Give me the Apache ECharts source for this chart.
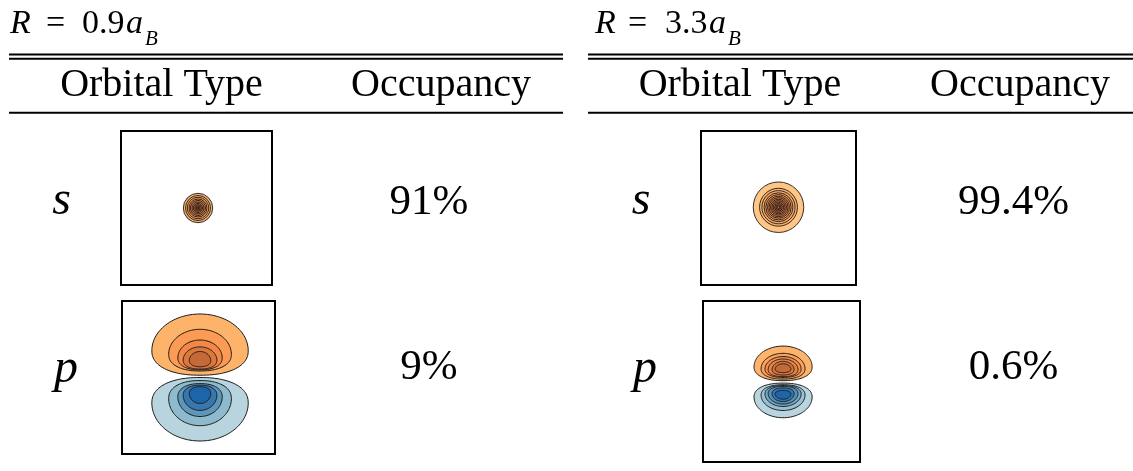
<!DOCTYPE html>
<html>
<head>
<meta charset="utf-8">
<script src="https://cdn.jsdelivr.net/npm/echarts@6/dist/echarts.min.js"></script>
<style>
  html, body { margin: 0; padding: 0; background: #fff; }
  #chart { width: 1133px; height: 471px; }
</style>
</head>
<body>
<div id="chart"></div>
<script>
// ---- table content ----
const separations = ['0.9', '3.3'];          // R in units of a_B
const headers = ['Orbital Type', 'Occupancy'];
const orbitals = ['s', 'p'];
const occupancyNear = [91, 9];                // % at R = 0.9 a_B
const occupancyFar = [99.4, 0.6];             // % at R = 3.3 a_B

// ---- contour data (panel units, each box spans -1..1) ----
// s orbital: centre and contour radii, outermost first
const sNearCenter = [0.02, 0.0];
const sNearRadii = [0.193, 0.164, 0.141, 0.118, 0.099, 0.079, 0.060, 0.043, 0.026, 0.013];
const sFarCenter = [0.0, 0.01];
const sFarRadii = [0.327, 0.245, 0.215, 0.187, 0.164, 0.142, 0.123, 0.103, 0.085, 0.067, 0.049, 0.032, 0.017];

// p orbital lobes: [outer y, inner y, half width], outermost first
const pNearCenterX = 0.02;
const pNearPos = [[0.83, 0.03, 0.63], [0.63, 0.085, 0.41], [0.49, 0.10, 0.29], [0.40, 0.11, 0.22], [0.34, 0.14, 0.14]];
const pNearNeg = [[-0.83, 0.00, 0.63], [-0.63, -0.04, 0.41], [-0.51, -0.08, 0.29], [-0.43, -0.10, 0.22], [-0.34, -0.12, 0.14]];
const pFarCenterX = 0.02;
const pFarPos = [[0.44, 0.01, 0.37], [0.35, 0.03, 0.28], [0.31, 0.05, 0.23], [0.28, 0.06, 0.19], [0.25, 0.08, 0.14], [0.22, 0.11, 0.10]];
const pFarNeg = [[-0.45, -0.02, 0.37], [-0.36, -0.04, 0.28], [-0.31, -0.05, 0.23], [-0.28, -0.06, 0.19], [-0.25, -0.08, 0.14], [-0.22, -0.11, 0.10]];

// ---- styling ----
const FONT = '"Liberation Serif", "Times New Roman", serif';
const LINE = '#1b1b1b';
const sNearFill = ['#f9b46c', '#fcaa64', '#f79c56', '#ee8e4c', '#e48244', '#d8783f', '#cd6f3b', '#c36839', '#ba6238', '#b05d37'];
const sFarFill = ['#ffc584', '#fdb46d', '#fba861', '#f79c57', '#f2914f', '#ec8749', '#e57e44', '#dd7840', '#d5713d', '#cd6c3b', '#c6673a', '#bf6339', '#b85f38'];
const orangeNear = ['#feb36a', '#fd9a53', '#f28746', '#dc773e', '#c46a39'];
const blueNear = ['#b8d4de', '#8dbacd', '#5d98bb', '#3777ae', '#1c65a8'];
const orangeFar = ['#feb36a', '#fda05a', '#f78e4b', '#ea8243', '#d6763e', '#c46a39'];
const blueFar = ['#b8d4de', '#98c0d2', '#75a8c5', '#5590b8', '#3777ae', '#1c65a8'];

const chart = echarts.init(document.getElementById('chart'), null, { renderer: 'canvas' });

// plot boxes: near-s, near-p, far-s, far-p
const boxes = [
  { left: 121, top: 131, width: 151, height: 154 },
  { left: 122, top: 301, width: 153, height: 153 },
  { left: 701, top: 131, width: 155, height: 154 },
  { left: 703, top: 301, width: 157, height: 161 }
];

const grids = boxes.map(b => Object.assign({
  show: true, borderColor: '#000', borderWidth: 2, backgroundColor: '#fff', containLabel: false
}, b));
const axisBase = { type: 'value', min: -1, max: 1, show: false };
const xAxes = boxes.map((b, i) => Object.assign({ gridIndex: i }, axisBase));
const yAxes = boxes.map((b, i) => Object.assign({ gridIndex: i }, axisBase));

// superellipse-style power keeping the sign
function se(v, n) { return Math.sign(v) * Math.pow(Math.abs(v), 2 / n); }

function ringSeries(idx, center, radii, palette) {
  return {
    type: 'custom', coordinateSystem: 'cartesian2d', xAxisIndex: idx, yAxisIndex: idx,
    silent: true, clip: false,
    data: radii.map(r => [center[0], center[1], r]),
    renderItem: function (params, api) {
      const c = api.coord([api.value(0), api.value(1)]);
      const r = api.value(2);
      const sz = api.size([r, r]);
      return {
        type: 'circle',
        shape: { cx: c[0], cy: c[1], r: (sz[0] + sz[1]) / 2 },
        style: { fill: palette[params.dataIndex], stroke: LINE, lineWidth: 0.9 }
      };
    }
  };
}

function lobeSeries(idx, cx, rows, palette) {
  return {
    type: 'custom', coordinateSystem: 'cartesian2d', xAxisIndex: idx, yAxisIndex: idx,
    silent: true, clip: false,
    data: rows.map(r => [cx, r[0], r[1], r[2]]),
    renderItem: function (params, api) {
      const x0 = api.value(0), yo = api.value(1), yi = api.value(2), rx = api.value(3);
      const yw = yi + 0.4 * (yo - yi);
      const pts = [];
      const N = 60;
      for (let k = 0; k <= N; k++) {           // rounded outer side
        const t = Math.PI * k / N;
        pts.push(api.coord([x0 + rx * Math.cos(t), yw + (yo - yw) * Math.sin(t)]));
      }
      for (let k = 1; k < N; k++) {            // shallower side facing the nodal plane
        const t = Math.PI + Math.PI * k / N;
        pts.push(api.coord([x0 + rx * se(Math.cos(t), 2.25), yw + (yw - yi) * se(Math.sin(t), 2.25)]));
      }
      return {
        type: 'polygon',
        shape: { points: pts },
        style: { fill: palette[params.dataIndex], stroke: LINE, lineWidth: 1 }
      };
    }
  };
}

const series = [
  ringSeries(0, sNearCenter, sNearRadii, sNearFill),
  lobeSeries(1, pNearCenterX, pNearPos, orangeNear),
  lobeSeries(1, pNearCenterX, pNearNeg, blueNear),
  ringSeries(2, sFarCenter, sFarRadii, sFarFill),
  lobeSeries(3, pFarCenterX, pFarPos, orangeFar),
  lobeSeries(3, pFarCenterX, pFarNeg, blueFar)
];

// ---- table text and rules ----
function txt(x, y, s, size, align, italic) {
  return {
    type: 'text', x: x, y: y, silent: true,
    style: {
      text: s, fill: '#000',
      font: (italic ? 'italic ' : '') + size + 'px ' + FONT,
      align: align, verticalAlign: 'middle',
      textAlign: align, textVerticalAlign: 'middle'
    }
  };
}
function rule(x1, x2, y, w) {
  return { type: 'line', silent: true, shape: { x1: x1, y1: y, x2: x2, y2: y }, style: { stroke: '#000', lineWidth: w } };
}

const tables = [
  { occ: occupancyNear, ruleX: [9, 563], title: [10, 46, 82, 126, 145], head: [161.5, 441], lab: [61.5, 66], val: 429 },
  { occ: occupancyFar, ruleX: [588, 1133], title: [595, 628, 665, 709, 728], head: [740, 1020], lab: [641, 645], val: 1013.5 }
];

const graphics = [];
tables.forEach((t, ti) => {
  // title  R = <sep> a_B
  graphics.push(txt(t.title[0], 24, 'R', 34, 'left', true));
  graphics.push(txt(t.title[1], 24, '=', 34, 'left', false));
  graphics.push(txt(t.title[2], 24, separations[ti], 34, 'left', false));
  graphics.push(txt(t.title[3], 24, 'a', 34, 'left', true));
  graphics.push(txt(t.title[4], 39.5, 'B', 21, 'left', true));
  // rules
  graphics.push(rule(t.ruleX[0], t.ruleX[1], 54.5, 2.2));
  graphics.push(rule(t.ruleX[0], t.ruleX[1], 58.8, 2));
  graphics.push(rule(t.ruleX[0], t.ruleX[1], 112.7, 2));
  // header
  headers.forEach((h, hi) => graphics.push(txt(t.head[hi], 85.5, h, 40, 'center', false)));
  // rows
  const rowY = [201.5, 369.5];
  const valY = [203, 367.5];
  orbitals.forEach((o, oi) => {
    graphics.push(txt(t.lab[oi], rowY[oi], o, 48, 'center', true));
    graphics.push(txt(t.val, valY[oi], t.occ[oi] + '%', 43, 'center', false));
  });
});

chart.setOption({
  backgroundColor: '#fff',
  animation: false,
  grid: grids,
  xAxis: xAxes,
  yAxis: yAxes,
  series: series,
  graphic: { elements: graphics }
});
</script>
</body>
</html>
